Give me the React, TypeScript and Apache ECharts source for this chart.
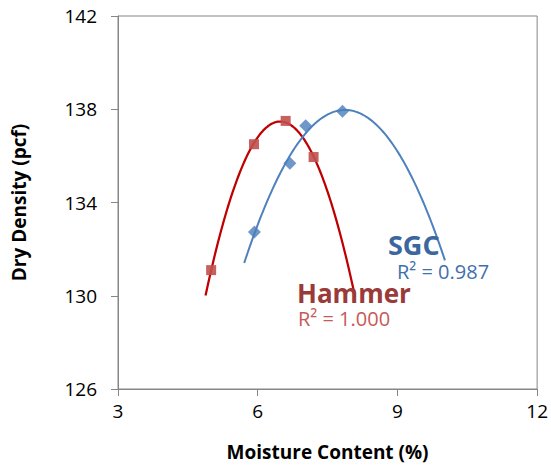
import React, { useEffect, useRef } from "react";
import * as echarts from "echarts";

// Measured points
const hammerX = [5.0, 5.92, 6.6, 7.2];
const hammerY = [131.1, 136.5, 137.5, 135.95];
const sgcX = [5.93, 6.69, 7.03, 7.82];
const sgcY = [132.73, 135.68, 137.29, 137.91];

// Trendline extents (x)
const hammerTrendRange = [4.88, 8.09];
const sgcTrendRange = [5.71, 10.02];

// Annotations
const sgcLabel = "SGC";
const sgcR2 = "R² = 0.987";
const hammerLabel = "Hammer";
const hammerR2 = "R² = 1.000";

// Axes
const xMin = 3, xMax = 12, xStep = 3;
const yMin = 126, yMax = 142, yStep = 4;

const FONT = "'Open Sans', sans-serif";

// Least-squares quadratic fit (Excel polynomial trendline, order 2)
function fitQuadratic(xs: number[], ys: number[]) {
  const n = xs.length;
  let s1 = 0, s2 = 0, s3 = 0, s4 = 0, t0 = 0, t1 = 0, t2 = 0;
  for (let i = 0; i < n; i++) {
    const x = xs[i], y = ys[i];
    s1 += x; s2 += x * x; s3 += x * x * x; s4 += x * x * x * x;
    t0 += y; t1 += x * y; t2 += x * x * y;
  }
  const M = [
    [n, s1, s2, t0],
    [s1, s2, s3, t1],
    [s2, s3, s4, t2],
  ];
  for (let c = 0; c < 3; c++) {
    let p = c;
    for (let r = c + 1; r < 3; r++) if (Math.abs(M[r][c]) > Math.abs(M[p][c])) p = r;
    [M[c], M[p]] = [M[p], M[c]];
    for (let r = 0; r < 3; r++) {
      if (r === c) continue;
      const f = M[r][c] / M[c][c];
      for (let k = c; k < 4; k++) M[r][k] -= f * M[c][k];
    }
  }
  const a0 = M[0][3] / M[0][0], a1 = M[1][3] / M[1][1], a2 = M[2][3] / M[2][2];
  return (x: number) => a0 + a1 * x + a2 * x * x;
}

function trend(xs: number[], ys: number[], range: number[]) {
  const f = fitQuadratic(xs, ys);
  const pts: number[][] = [];
  const steps = 120;
  for (let i = 0; i <= steps; i++) {
    const x = range[0] + ((range[1] - range[0]) * i) / steps;
    pts.push([x, f(x)]);
  }
  return pts;
}

export default function App() {
  const ref = useRef<HTMLDivElement>(null);
  useEffect(() => {
    if (!ref.current) return;
    const chart = echarts.init(ref.current, undefined, { renderer: "svg" });
    const axisGray = "#868686";
    const option: any = {
      animation: false,
      grid: {
        left: 118, right: 11, top: 16, bottom: 78,
        show: true, borderColor: axisGray, borderWidth: 1,
      },
      xAxis: {
        type: "value", min: xMin, max: xMax, interval: xStep,
        name: "Moisture Content (%)", nameLocation: "middle", nameGap: 53,
        nameTextStyle: { fontFamily: FONT, fontSize: 19, fontWeight: "bold", color: "#000" },
        axisLine: { show: true, lineStyle: { color: axisGray } },
        axisTick: { show: true, length: 7, lineStyle: { color: axisGray } },
        axisLabel: { margin: 12, fontFamily: FONT, fontSize: 19, color: "#000" },
        splitLine: { show: false },
      },
      yAxis: {
        type: "value", min: yMin, max: yMax, interval: yStep,
        name: "Dry Density (pcf)", nameLocation: "middle", nameGap: 90, nameRotate: 90,
        nameTextStyle: { fontFamily: FONT, fontSize: 19, fontWeight: "bold", color: "#000" },
        axisLine: { show: true, lineStyle: { color: axisGray } },
        axisTick: { show: true, length: 7, lineStyle: { color: axisGray } },
        axisLabel: { margin: 21, fontFamily: FONT, fontSize: 19, color: "#000" },
        splitLine: { show: false },
      },
      series: [
        {
          type: "line", data: trend(hammerX, hammerY, hammerTrendRange),
          showSymbol: false, symbol: "none", smooth: false,
          lineStyle: { color: "#C00000", width: 2.25 }, z: 2,
        },
        {
          type: "line", data: trend(sgcX, sgcY, sgcTrendRange),
          showSymbol: false, symbol: "none", smooth: false,
          lineStyle: { color: "#4F81BD", width: 2 }, z: 2,
        },
        {
          type: "scatter", data: hammerX.map((x, i) => [x, hammerY[i]]),
          symbol: "rect", symbolSize: 10,
          itemStyle: { color: "#C0504D", opacity: 0.9 }, z: 3,
        },
        {
          type: "scatter", data: sgcX.map((x, i) => [x, sgcY[i]]),
          symbol: "diamond", symbolSize: 13,
          itemStyle: { color: "#4A7EBB" }, z: 3,
        },
      ],
      graphic: [
        { type: "text", x: 388, y: 244.3, z: 10, style: { text: sgcLabel, fontFamily: FONT, fontSize: 27, fontWeight: "bold", fill: "#3B679E", verticalAlign: "middle" } },
        { type: "text", x: 397, y: 271, z: 10, style: { text: sgcR2, fontFamily: FONT, fontSize: 20, fill: "#3F70AC", verticalAlign: "middle" } },
        { type: "text", x: 297, y: 293.4, z: 10, style: { text: hammerLabel, fontFamily: FONT, fontSize: 26, fontWeight: "bold", fill: "#9A3B39", verticalAlign: "middle" } },
        { type: "text", x: 298, y: 318, z: 10, style: { text: hammerR2, fontFamily: FONT, fontSize: 20, fill: "#C55A57", verticalAlign: "middle" } },
      ],
    };
    chart.setOption(option);
    return () => chart.dispose();
  }, []);
  return <div ref={ref} style={{ width: 551, height: 467, position: "absolute", left: 0, top: 0 }} />;
}
